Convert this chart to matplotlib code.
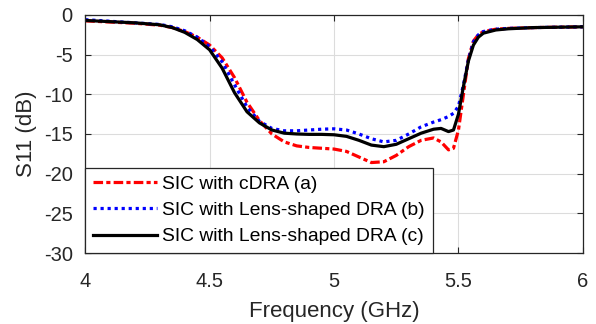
import matplotlib.pyplot as plt

freq = [4.0, 4.1, 4.2, 4.3, 4.35, 4.4, 4.45, 4.5, 4.55, 4.6, 4.65, 4.7, 4.75, 4.8,
        4.85, 4.9, 4.95, 5.0, 5.05, 5.1, 5.15, 5.2, 5.25, 5.3, 5.35, 5.4, 5.43,
        5.46, 5.48, 5.5, 5.52, 5.54, 5.56, 5.58, 5.6, 5.65, 5.7, 5.8, 5.9, 6.0]

s11_cdra = [-0.75, -0.9, -1.05, -1.3, -1.6, -2.1, -2.8, -3.8, -5.4, -7.9, -11.0, -13.3,
            -15.0, -16.0, -16.5, -16.7, -16.8, -16.9, -17.2, -17.9, -18.6, -18.5, -17.7,
            -16.6, -15.8, -15.5, -16.0, -17.0, -16.8, -14.5, -10.0, -5.5, -3.3, -2.5,
            -2.1, -1.8, -1.7, -1.6, -1.55, -1.5]

s11_lens_b = [-0.6, -0.8, -1.0, -1.2, -1.5, -2.0, -2.8, -4.0, -5.9, -8.8, -11.6, -13.4,
              -14.3, -14.6, -14.6, -14.5, -14.4, -14.35, -14.5, -15.0, -15.6, -16.0, -15.8,
              -15.0, -14.1, -13.5, -13.2, -12.8, -12.4, -11.5, -8.8, -5.6, -3.4, -2.5,
              -2.1, -1.8, -1.7, -1.6, -1.55, -1.5]

s11_lens_c = [-0.7, -0.85, -1.0, -1.25, -1.6, -2.2, -3.1, -4.4, -6.7, -9.8, -12.2, -13.6,
              -14.5, -14.9, -15.0, -15.05, -15.05, -15.1, -15.3, -15.8, -16.4, -16.6, -16.3,
              -15.6, -14.9, -14.4, -14.3, -14.7, -14.5, -12.5, -9.0, -5.8, -3.8, -2.8,
              -2.3, -1.9, -1.75, -1.6, -1.55, -1.5]

labels = ['SIC with cDRA (a)', 'SIC with Lens-shaped DRA (b)', 'SIC with Lens-shaped DRA (c)']

plt.rcParams['font.family'] = ['Liberation Sans', 'DejaVu Sans']
plt.rcParams['axes.unicode_minus'] = False

fig = plt.figure(figsize=(5.96, 3.24), dpi=100)
ax = fig.add_axes([0.143, 0.219, 0.835, 0.735])

ax.plot(freq, s11_cdra, color='red', lw=2.3, linestyle=(0, (3, 1, 1.3, 1)), label=labels[0])
ax.plot(freq, s11_lens_b, color='blue', lw=2.3, linestyle=(0, (1, 1.2)), label=labels[1])
ax.plot(freq, s11_lens_c, color='black', lw=2.3, linestyle='-', label=labels[2])

ax.set_xlim(4, 6)
ax.set_ylim(-30, 0)
ax.set_xticks([4, 4.5, 5, 5.5, 6])
ax.set_xticklabels(['4', '4.5', '5', '5.5', '6'])
ax.set_yticks([-30, -25, -20, -15, -10, -5, 0])
ax.grid(True, color='#dcdcdc', lw=0.8)
ax.set_axisbelow(True)
ax.tick_params(direction='in', top=True, right=True, labelsize=14.5, colors='#262626',
               length=4)
ax.tick_params(axis='x', pad=14)
ax.tick_params(axis='y', pad=9)
for sp in ax.spines.values():
    sp.set_color('#262626')
    sp.set_linewidth(0.9)

ax.set_xlabel('Frequency (GHz)', fontsize=16, color='#262626', labelpad=7)
ax.set_ylabel('S11 (dB)', fontsize=16, color='#262626', labelpad=5)

leg = ax.legend(loc='lower left', fontsize=13.9, handlelength=3.3, borderaxespad=0.0,
                fancybox=False, framealpha=1, edgecolor='#262626',
                handletextpad=0.3, borderpad=0.4, labelspacing=0.45)
leg.get_frame().set_linewidth(0.9)

fig.savefig('out.png', dpi=100)
